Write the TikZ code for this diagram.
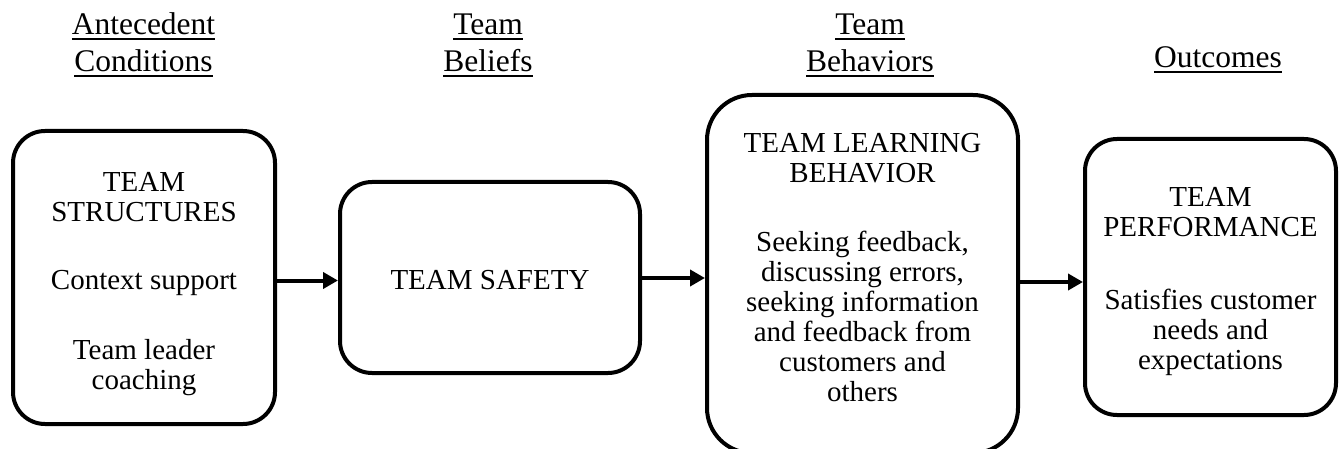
\documentclass[tikz,border=0pt]{standalone}
\usepackage{fontspec}
\setmainfont{Liberation Serif}
\usetikzlibrary{arrows.meta}
% underlined heading word with a heavy rule
\newsavebox\hdrbox
\newcommand\hdr[1]{\sbox\hdrbox{#1}\rlap{\rule[-5.5pt]{\wd\hdrbox}{2pt}}\usebox\hdrbox}
\begin{document}
\begin{tikzpicture}[x=1pt,y=-1pt,
  stage/.style={draw=black,line width=4pt,rounded corners=32pt,inner sep=0pt},
  stagetext/.style={align=center,inner sep=0pt,font=\fontsize{29}{30}\selectfont},
  header/.style={align=center,inner sep=0pt,font=\fontsize{31.5}{37}\selectfont},
  flow/.style={line width=4pt,-{Triangle[length=15pt,width=16pt]}}]
\useasboundingbox (0,0) rectangle (1343,449);

% column headings (anchored at the baseline of their last line)
\node[header,anchor=base] (h1) at (143.5,72) {\hdr{Antecedent}\\\hdr{Conditions}};
\node[header,anchor=base] (h2) at (488,72) {\hdr{Team}\\\hdr{Beliefs}};
\node[header,anchor=base] (h3) at (870,72) {\hdr{Team}\\\hdr{Behaviors}};
\node[header,anchor=base] (h4) at (1218,68) {\hdr{Outcomes}};

% stage boxes
\node[stage,minimum width=262pt,minimum height=293pt,
  label={[stagetext,yshift=-7pt]center:{TEAM\\STRUCTURES\\[38pt]Context support\\[40pt]Team leader\\coaching}}]
  (b1) at (144,277.5) {};
\node[stage,minimum width=300pt,minimum height=191pt,
  label={[stagetext,yshift=-3pt]center:{TEAM SAFETY}}]
  (b2) at (490,277.5) {};
\node[stage,rounded corners=45pt,minimum width=311pt,minimum height=358pt,
  label={[stagetext,yshift=6.5pt]center:{TEAM LEARNING\\BEHAVIOR\\[39pt]Seeking feedback,\\discussing errors,\\seeking information\\and feedback from\\customers and\\others}}]
  (b3) at (862.5,274) {};
\node[stage,minimum width=251pt,minimum height=276pt,
  label={[stagetext,yshift=-5pt]center:{TEAM\\PERFORMANCE\\[43pt]Satisfies customer\\needs and\\expectations}}]
  (b4) at (1210.5,277) {};

% connectors
\draw[flow] ([yshift=-3pt]b1.east) -- ([yshift=-3pt]b2.west);
\draw[flow] ([yshift=-0.5pt]b2.east) -- ([yshift=-0.5pt]b2.east -| b3.west);
\draw[flow] ([yshift=-8pt]b3.east) -- ([yshift=-8pt]b3.east -| b4.west);
\end{tikzpicture}
\end{document}
